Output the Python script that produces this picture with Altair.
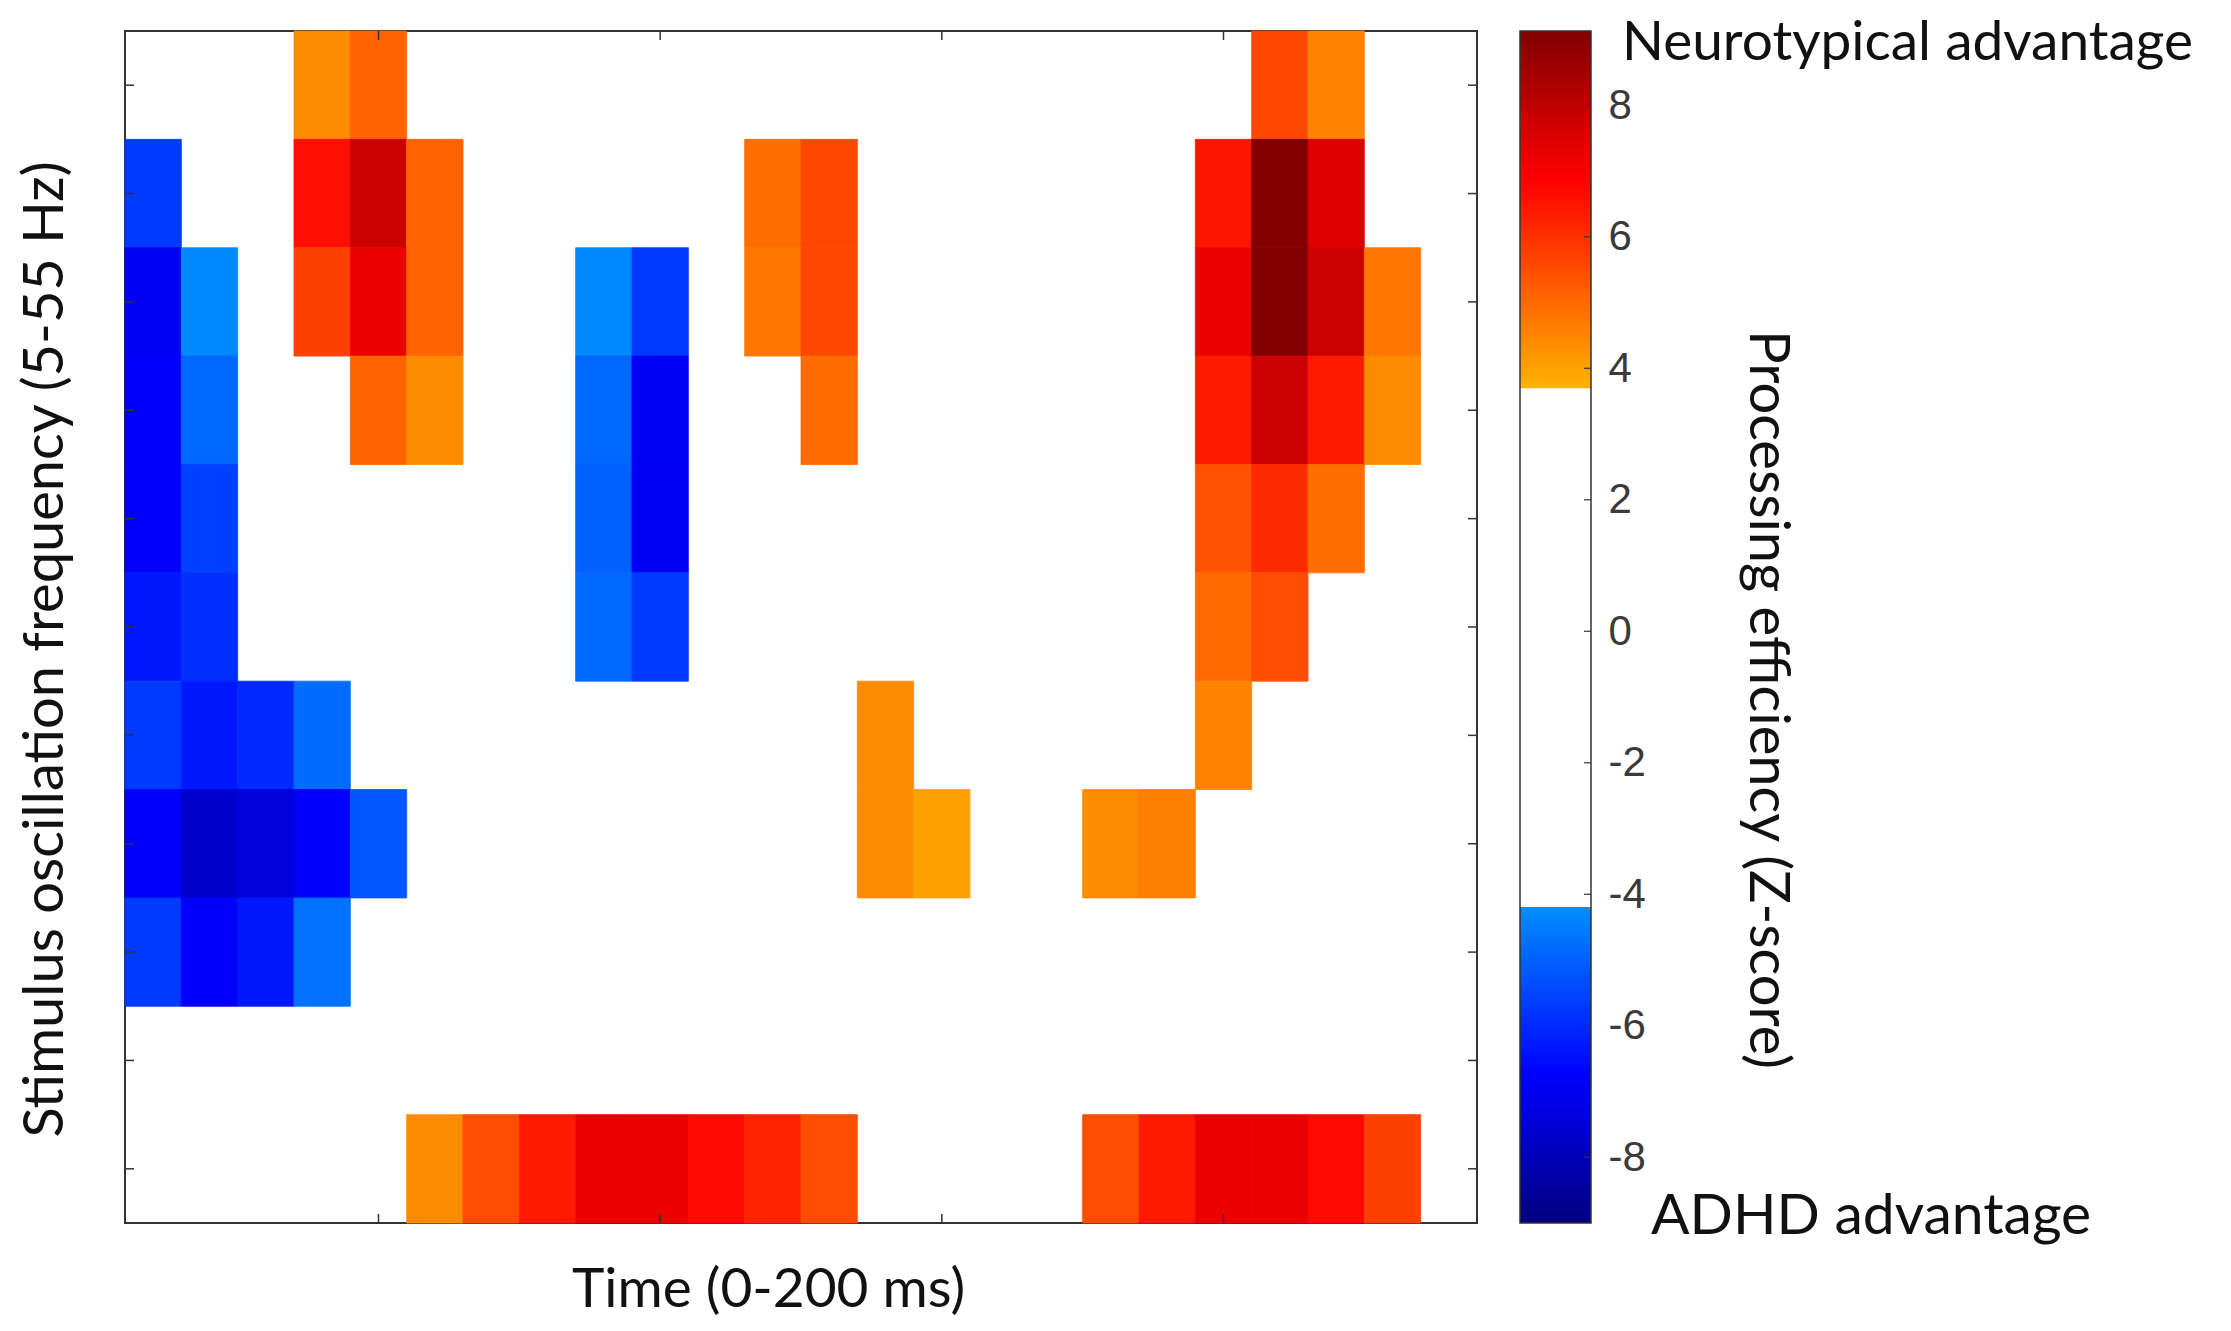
import altair as alt
import pandas as pd

# ---------------- data ----------------
# 24 time bins across 0-200 ms (column index), 11 stimulus frequencies (rows, top to bottom)
time_bins = list(range(1, 25))
freqs = [55, 50, 45, 40, 35, 30, 25, 20, 15, 10, 5]
N = None
z_55 = [N, N, N, 4.4, 5.1, N, N, N, N, N, N, N, N, N, N, N, N, N, N, N, 5.6, 4.55, N, N]
z_50 = [-5.7, N, N, 6.6, 7.8, 5.1, N, N, N, N, N, 4.9, 5.6, N, N, N, N, N, N, 6.5, 9.1, 7.45, N, N]
z_45 = [-6.9, -4.3, N, 5.7, 7.2, 5.1, N, N, -4.3, -5.7, N, 4.75, 5.6, N, N, N, N, N, N, 7.2, 9.1, 7.8, 4.75, N]
z_40 = [-6.8, -4.9, N, N, 5.1, 4.4, N, N, -4.9, -6.9, N, N, 4.97, N, N, N, N, N, N, 6.4, 7.8, 6.4, 4.4, N]
z_35 = [-6.8, -5.6, N, N, N, N, N, N, -5.0, -6.9, N, N, N, N, N, N, N, N, N, 5.4, 6.1, 4.9, N, N]
z_30 = [-6.3, -5.9, N, N, N, N, N, N, -4.9, -5.7, N, N, N, N, N, N, N, N, N, 5.0, 5.5, N, N, N]
z_25 = [-5.7, -6.3, -6.0, -4.8, N, N, N, N, N, N, N, N, N, 4.4, N, N, N, N, N, 4.55, N, N, N, N]
z_20 = [-6.8, -7.6, -7.4, -6.8, -5.2, N, N, N, N, N, N, N, N, 4.4, 4.0, N, N, 4.4, 4.6, N, N, N, N, N]
z_15 = [-5.7, -6.8, -6.3, -4.7, N, N, N, N, N, N, N, N, N, N, N, N, N, N, N, N, N, N, N, N]
z_10 = [N, N, N, N, N, N, N, N, N, N, N, N, N, N, N, N, N, N, N, N, N, N, N, N]
z_5 = [N, N, N, N, N, 4.4, 5.5, 6.4, 7.2, 7.2, 6.7, 6.25, 5.5, N, N, N, N, 5.5, 6.4, 7.2, 7.2, 6.7, 5.7, N]
rows = [z_55, z_50, z_45, z_40, z_35, z_30, z_25, z_20, z_15, z_10, z_5]

x_tick_values = [5, 10, 15, 20]
cbar_tick_values = [-8, -6, -4, -2, 0, 2, 4, 6, 8]
z_min, z_max = -9.0, 9.13

# jet colormap with the non-significant middle blanked to white
cmap_domain = [-9.0, -6.734, -4.2, -4.19, 3.69, 3.7, 6.864, 9.13]
cmap_range = ["#000080", "#0000ff", "#008eff", "#ffffff", "#ffffff", "#ffb200", "#ff0000", "#800000"]

x_title = "Time (0-200 ms)"
y_title = "Stimulus oscillation frequency (5-55 Hz)"
cbar_title = "Processing efficiency (Z-score)"
top_label = "Neurotypical advantage"
bottom_label = "ADHD advantage"

# ---------------- layout / style ----------------
W, H = 1352, 1192
CB_X0, CB_X1 = 1395, 1466
FRAME = "#333333"
TXT = "#111111"
BIG = 56
TL = 9

records = []
for f, row in zip(freqs, rows):
    assert len(row) == 24
    for t, z in zip(time_bins, row):
        if z is not None:
            records.append({"t": t, "f": f, "z": z})
df = pd.DataFrame(records)

x_scale = alt.Scale(domain=[0.5, 24.5], nice=False, zero=False)
y_scale = alt.Scale(domain=[2.5, 57.5], nice=False, zero=False)
c_scale = alt.Scale(type="linear", domain=cmap_domain, range=cmap_range, interpolate="rgb")
cb_scale = alt.Scale(domain=[z_min, z_max], nice=False, zero=False)

x_axis = alt.Axis(
    title=x_title, labels=False, ticks=False, domain=False, grid=False,
    titleFont="Lato", titleFontSize=55, titleFontWeight="normal", titleColor=TXT,
    titlePadding=40, titleX=643, titleAlign="center")
y_axis = alt.Axis(
    title=y_title, labels=False, ticks=False, domain=False, grid=False,
    titleFont="Lato", titleFontSize=BIG, titleFontWeight="normal", titleColor=TXT,
    titleAngle=-90, titleX=-80, titleY=618, titleAlign="center", titleBaseline="middle")
cb_axis = alt.Axis(
    orient="right", offset=CB_X1 - W, values=cbar_tick_values, ticks=False, domain=False,
    grid=False, labelFont="Liberation Sans", labelFontSize=42, labelColor="#3a3a3a",
    labelExpr="toString(datum.value)",
    labelPadding=17, title=cbar_title, titleFont="Lato", titleFontSize=BIG,
    titleFontWeight="normal", titleColor=TXT, titleAngle=90, titleX=175, titleY=668,
    titleAlign="center", titleBaseline="middle")

heat = alt.Chart(df).transform_calculate(
    t0="datum.t - 0.5", t1="datum.t + 0.5", f0="datum.f - 2.5", f1="datum.f + 2.5"
).mark_rect(strokeWidth=0.8).encode(
    x=alt.X("t0:Q", scale=x_scale, axis=x_axis),
    x2="t1:Q",
    y=alt.Y("f0:Q", scale=y_scale, axis=y_axis),
    y2="f1:Q",
    color=alt.Color("z:Q", scale=c_scale, legend=None),
    stroke=alt.Stroke("z:Q", scale=c_scale, legend=None),
)

ytick_df = pd.DataFrame({"f": freqs})
xtick_df = pd.DataFrame({"t": x_tick_values})
rule = dict(color=FRAME, strokeWidth=1.5)
left_ticks = alt.Chart(ytick_df).mark_rule(**rule).encode(
    y=alt.Y("f:Q", scale=y_scale, axis=y_axis), x=alt.value(0), x2=alt.value(TL))
right_ticks = alt.Chart(ytick_df).mark_rule(**rule).encode(
    y=alt.Y("f:Q", scale=y_scale, axis=y_axis), x=alt.value(W), x2=alt.value(W - TL))
bottom_ticks = alt.Chart(xtick_df).mark_rule(**rule).encode(
    x=alt.X("t:Q", scale=x_scale, axis=x_axis), y=alt.value(H), y2=alt.value(H - TL))
top_ticks = alt.Chart(xtick_df).mark_rule(**rule).encode(
    x=alt.X("t:Q", scale=x_scale, axis=x_axis), y=alt.value(0), y2=alt.value(TL))

main = alt.layer(heat, left_ticks, right_ticks, bottom_ticks, top_ticks)

# ---------------- colour bar ----------------
stops = [alt.GradientStop(offset=(d - z_min) / (z_max - z_min), color=c)
         for d, c in zip(cmap_domain, cmap_range)]
grad = alt.LinearGradient(gradient="linear", stops=stops, x1=0, x2=0, y1=1, y2=0)
cbar_df = pd.DataFrame({"lo": [z_min], "hi": [z_max]})
cbar_rect = alt.Chart(cbar_df).mark_rect(fill=grad, stroke=FRAME, strokeWidth=1.5).encode(
    x=alt.value(CB_X0), x2=alt.value(CB_X1),
    y=alt.Y("lo:Q", scale=cb_scale, axis=cb_axis),
    y2="hi:Q",
)
cb_tick_df = pd.DataFrame({"v": cbar_tick_values})
cbar_ticks = alt.Chart(cb_tick_df).mark_rule(color=FRAME, strokeWidth=1.2).encode(
    y=alt.Y("v:Q", scale=cb_scale, axis=cb_axis), x=alt.value(CB_X1), x2=alt.value(CB_X1 - 7))
top_text = alt.Chart(pd.DataFrame({"label": [top_label]})).mark_text(
    align="left", baseline="middle", font="Lato", fontSize=55, color=TXT
).encode(text="label:N", x=alt.value(1497), y=alt.value(12))
bottom_text = alt.Chart(pd.DataFrame({"label": [bottom_label]})).mark_text(
    align="left", baseline="middle", font="Lato", fontSize=57, color=TXT
).encode(text="label:N", x=alt.value(1526), y=alt.value(1186))

cbar = alt.layer(cbar_rect, cbar_ticks, top_text, bottom_text)

chart = alt.layer(main, cbar).resolve_scale(y="independent").resolve_axis(y="independent").properties(
    width=W, height=H,
    autosize=alt.AutoSizeParams(type="none"),
    padding={"left": 117, "top": 23, "right": 746, "bottom": 99},
    background="white",
).configure_view(stroke=FRAME, strokeWidth=2)

chart.save("out.html", embed_options={"renderer": "svg", "actions": False})
